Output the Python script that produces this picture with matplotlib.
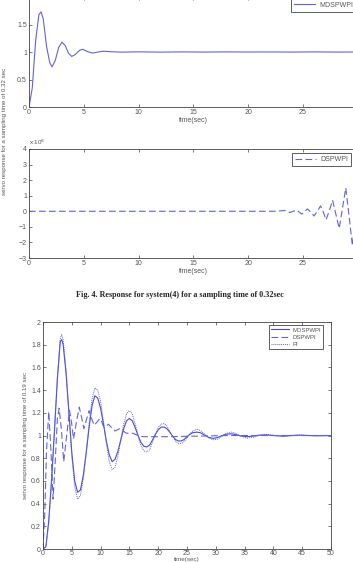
import matplotlib
matplotlib.use('Agg')
import matplotlib.pyplot as plt

plt.rcParams['font.family'] = ['Liberation Sans', 'DejaVu Sans']

# ---- Fig. 4 (sampling time 0.32 s), top panel: MDSPWPI
t_top = [0, 0.3, 0.6, 0.9, 1.1, 1.3, 1.6, 1.9, 2.1, 2.4, 2.7, 3.0, 3.3, 3.6, 3.9,
         4.2, 4.6, 4.9, 5.3, 5.8, 6.3, 6.8, 7.5, 8.5, 10, 12, 14, 16, 18, 20,
         22, 24, 26, 28, 30]
mdspwpi_top = [0, 0.35, 1.2, 1.68, 1.73, 1.6, 1.1, 0.8, 0.73, 0.85, 1.08, 1.18,
               1.12, 0.98, 0.92, 0.95, 1.03, 1.05, 1.01, 0.98, 1.0, 1.015, 1.005,
               0.998, 1.003, 0.998, 1.002, 0.999, 1.002, 1.0, 1.001, 0.999,
               1.002, 0.999, 1.0]

# ---- Fig. 4 middle panel: DSPWPI (units of 1e8)
t_mid = [0, 22.3, 22.8, 23.4, 23.8, 24.4, 24.9, 25.4, 25.7, 26.0, 26.3, 26.6,
         26.85, 27.1, 27.4, 27.7, 28.0, 28.3, 28.6, 28.9, 29.2, 29.5, 29.8]
dspwpi_mid = [0, 0, 0.02, 0.05, -0.08, 0.08, -0.18, 0.15, -0.05, -0.3, 0.0, 0.35,
              -0.05, -0.55, 0.05, 0.7, -0.2, -1.1, 0.2, 1.5, -0.3, -2.2, -0.4]

# ---- Fig. 5 (sampling time 0.19 s)
t_bot = [0, 0.5, 1.0, 1.5, 2.0, 2.5, 3.0, 3.25, 3.5, 4.0, 4.5, 5.0, 5.5, 6.0, 6.5,
         7.0, 7.5, 8.0, 8.5, 9.0, 9.5, 10.0, 10.5, 11.0, 11.5, 12.0, 12.5, 13.0,
         13.5, 14.0, 14.5, 15.0, 15.5, 16.0, 16.5, 17.0, 17.5, 18.0, 18.5, 19.0,
         19.5, 20.0, 20.5, 21.0, 21.5, 22.0, 22.5, 23.0, 23.5, 24.0, 24.5, 25.0,
         25.5, 26.0, 26.7, 27.3, 28.0, 28.7, 29.5, 30.3, 31.0, 31.8, 32.7, 33.5,
         34.3, 35.5, 36.5, 37.5, 38.8, 40, 41.7, 43, 44.6, 46, 47.5, 50]
mdspwpi = [0, 0.02, 0.25, 0.62, 1.05, 1.5, 1.83, 1.845, 1.8, 1.55, 1.2, 0.85, 0.6,
           0.5, 0.52, 0.65, 0.85, 1.07, 1.26, 1.35, 1.33, 1.24, 1.1, 0.95, 0.83,
           0.77, 0.79, 0.86, 0.96, 1.06, 1.13, 1.15, 1.13, 1.07, 1.0, 0.94, 0.905,
           0.9, 0.915, 0.96, 1.01, 1.05, 1.073, 1.075, 1.06, 1.03, 0.995, 0.965,
           0.952, 0.952, 0.965, 0.99, 1.01, 1.025, 1.03, 1.025, 1.005, 0.985,
           0.975, 0.982, 0.998, 1.012, 1.015, 1.008, 0.996, 0.99, 0.995, 1.003,
           1.006, 1.0, 0.995, 1.0, 1.003, 1.0, 0.998, 1.0]
pi_ctrl = [0, 0.02, 0.22, 0.6, 1.05, 1.52, 1.86, 1.89, 1.84, 1.58, 1.2, 0.82, 0.55,
           0.44, 0.47, 0.62, 0.85, 1.1, 1.32, 1.42, 1.4, 1.3, 1.12, 0.93, 0.77,
           0.7, 0.72, 0.82, 0.96, 1.1, 1.19, 1.22, 1.19, 1.1, 1.0, 0.91, 0.865,
           0.855, 0.875, 0.94, 1.01, 1.07, 1.1, 1.105, 1.085, 1.04, 0.99, 0.95,
           0.932, 0.93, 0.945, 0.98, 1.015, 1.04, 1.055, 1.045, 1.015, 0.98,
           0.962, 0.968, 0.99, 1.018, 1.03, 1.018, 0.995, 0.977, 0.985, 1.0,
           1.01, 1.003, 0.99, 0.997, 1.005, 1.001, 0.997, 1.0]
t_ds = [0, 0.3, 0.6, 1.0, 1.4, 1.75, 2.1, 2.5, 2.8, 3.2, 3.6, 4.0, 4.6, 5.0, 5.3,
        5.8, 6.3, 6.7, 7.1, 7.6, 8.0, 8.5, 8.9, 9.4, 9.85, 10.2, 10.5, 10.9,
        11.35, 11.9, 12.5, 12.9, 13.3, 13.9, 14.5, 15.0, 15.6, 16.5, 17.4, 19,
        21.4, 24, 27.2, 30, 33, 40, 50]
dspwpi = [0, 0.3, 0.85, 1.21, 0.85, 0.44, 0.75, 1.15, 1.24, 1.05, 0.77, 0.95, 1.22,
          1.1, 0.97, 1.12, 1.25, 1.16, 1.06, 1.15, 1.22, 1.14, 1.09, 1.12, 1.15,
          1.12, 1.08, 1.08, 1.1, 1.07, 1.04, 1.05, 1.06, 1.04, 1.02, 1.02, 1.02,
          1.0, 0.99, 0.99, 0.99, 0.992, 0.995, 0.998, 1.0, 1.0, 1.0]

line_col = '#6262dc'
axis_col = '#444444'
text_col = '#555555'
fs = 5


def style(ax):
    for s in ax.spines.values():
        s.set_color(axis_col)
        s.set_linewidth(0.6)
    ax.tick_params(direction='in', length=2.5, width=0.5, colors=axis_col,
                   labelcolor=text_col, labelsize=fs, top=True, right=True, pad=1.5)


def legend(ax, size=fs, **kw):
    leg = ax.legend(fontsize=size, frameon=True, fancybox=False, edgecolor=axis_col,
                    framealpha=1, handlelength=3, borderpad=0.4, labelspacing=0.35,
                    handletextpad=0.6, **kw)
    leg.get_frame().set_linewidth(0.6)
    for txt in leg.get_texts():
        txt.set_color(text_col)


fig = plt.figure(figsize=(3.53, 5.62), dpi=100)

# top panel
ax1 = fig.add_axes([0.0822, 0.8096, 0.9315, 0.1957])
ax1.plot(t_top, mdspwpi_top, color=line_col, lw=0.8, label='MDSPWPI')
ax1.set_xlim(0, 30)
ax1.set_ylim(0, 2)
ax1.set_xticks([0, 5, 10, 15, 20, 25, 30])
ax1.set_xticklabels(['0', '5', '10', '15', '20', '25', ''])
ax1.set_yticks([0, 0.5, 1, 1.5, 2])
ax1.set_yticklabels(['0', '0.5', '1', '1.5', ''])
ax1.set_xlabel('time(sec)', fontsize=fs, color=text_col, labelpad=1)
style(ax1)
legend(ax1, loc='upper right', borderaxespad=0.3)

# middle panel
ax2 = fig.add_axes([0.0822, 0.5409, 0.9315, 0.194])
ax2.plot(t_mid, dspwpi_mid, color=line_col, lw=0.8, ls=(0, (6, 3)), label='DSPWPI')
ax2.set_xlim(0, 30)
ax2.set_ylim(-3, 4)
ax2.set_xticks([0, 5, 10, 15, 20, 25, 30])
ax2.set_xticklabels(['0', '5', '10', '15', '20', '25', ''])
ax2.set_yticks(range(-3, 5))
ax2.set_xlabel('time(sec)', fontsize=fs, color=text_col, labelpad=1)
ax2.text(0, 1.02, r'x 10$^8$', transform=ax2.transAxes, fontsize=fs - 0.5,
         color=text_col, va='bottom')
style(ax2)
legend(ax2, loc='upper right', borderaxespad=0.3, bbox_to_anchor=(0.985, 0.98))

fig.text(0.014, 0.767, 'servo response for a sampling time of 0.32 sec',
         rotation=90, fontsize=4.4, color=text_col, ha='center', va='center')

fig.text(0.51, 0.475, 'Fig. 4. Response for system(4) for a sampling time of 0.32sec',
         family=['Liberation Serif', 'DejaVu Serif'], weight='bold', fontsize=5.9,
         color='#222222', ha='center', va='center')

# bottom panel
ax3 = fig.add_axes([0.1218, 0.0231, 0.816, 0.4039])
ax3.plot(t_bot, mdspwpi, color='#4a4ad6', lw=0.8, label='MDSPWPI')
ax3.plot(t_ds, dspwpi, color=line_col, lw=0.8, ls=(0, (6, 3)), label='DSPWPI')
ax3.plot(t_bot, pi_ctrl, color=line_col, lw=0.7, ls=(0, (1, 1)), label='PI')
ax3.set_xlim(0, 50)
ax3.set_ylim(0, 2)
ax3.set_xticks(range(0, 51, 5))
ax3.set_yticks([0, 0.2, 0.4, 0.6, 0.8, 1, 1.2, 1.4, 1.6, 1.8, 2])
ax3.set_yticklabels(['0', '0.2', '0.4', '0.6', '0.8', '1', '1.2', '1.4', '1.6', '1.8', '2'])
ax3.set_xlabel('time(sec)', fontsize=4.5, color=text_col, labelpad=0)
ax3.set_ylabel('servo response for a sampling time of 0.19 sec', fontsize=4.4,
               color=text_col, labelpad=2)
style(ax3)
ax3.tick_params(axis='x', pad=1)
legend(ax3, size=4.3, loc='upper right', borderaxespad=0.3,
       bbox_to_anchor=(0.98, 0.995))

fig.savefig('out.png', dpi=100)
